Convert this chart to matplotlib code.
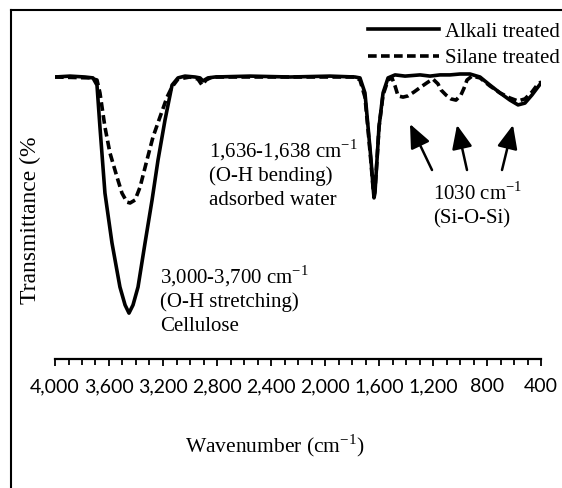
import matplotlib

matplotlib.use("Agg")
import matplotlib.pyplot as plt
from matplotlib.lines import Line2D
from matplotlib.ticker import FuncFormatter, MultipleLocator

# FTIR spectra (wavenumber in cm-1, transmittance in chart units)
ALKALI_WN = [4000, 3889, 3778, 3719, 3689, 3667, 3630, 3578, 3519, 3481, 3452, 3422, 3385,
             3333, 3281, 3237, 3185, 3133, 3089, 3037, 2963, 2926, 2904, 2867, 2815, 2556,
             2259, 1963, 1778, 1741, 1704, 1681, 1659, 1644, 1637, 1630, 1615, 1600, 1570,
             1533, 1481, 1407, 1296, 1222, 1148, 1074, 1000, 926, 852, 778, 704, 630, 570,
             519, 467, 422, 400]
ALKALI_T = [94.0, 94.3, 94.0, 93.7, 91.3, 77.3, 55.3, 38.7, 24.0, 18.0, 15.3, 18.0, 24.0,
            38.7, 53.0, 66.3, 79.7, 91.3, 93.7, 94.3, 94.0, 93.7, 92.7, 93.7, 94.0, 94.3,
            94.0, 94.3, 94.0, 93.7, 88.7, 77.3, 66.3, 57.3, 53.7, 55.3, 66.3, 77.3, 88.7,
            93.7, 94.7, 94.3, 94.7, 94.3, 94.7, 94.7, 95.0, 95.0, 94.0, 91.3, 88.7, 86.3, 84.7,
            85.3, 88.0, 90.7, 92.0]

SILANE_WN = [4000, 3741, 3689, 3667, 3630, 3593, 3541, 3504, 3467, 3444, 3407, 3370, 3319,
             3274, 3222, 3170, 3133, 3089, 3000, 2941, 2911, 2881, 2837, 2400, 1778, 1741,
             1704, 1681, 1659, 1644, 1637, 1630, 1615, 1600, 1570, 1533, 1504, 1481, 1459,
             1422, 1385, 1341, 1289, 1237, 1200, 1163, 1141, 1104, 1067, 1030, 993, 970, 948,
             911, 852, 778, 704, 630, 570, 519, 467, 422, 400]
SILANE_T = [94.0, 93.7, 93.0, 88.7, 77.3, 68.7, 60.7, 55.3, 52.3, 52.0, 53.0, 57.3, 66.3,
            74.0, 80.7, 87.3, 90.7, 93.3, 94.0, 93.3, 91.3, 93.0, 94.0, 94.0, 94.0, 93.0,
            87.3, 76.3, 65.3, 57.0, 54.7, 56.3, 66.3, 77.3, 88.0, 93.0, 93.7, 91.0, 87.7,
            87.3, 87.7, 89.0, 90.7, 92.3, 93.3, 91.7, 89.7, 88.0, 86.7, 86.3, 88.0, 90.3, 93.0,
            94.3, 93.7, 91.0, 88.7, 87.0, 86.0, 86.7, 89.0, 91.7, 92.3]

SERIES_LABELS = ["Alkali treated", "Silane treated"]

W, H = 562, 488
SERIF = "Liberation Serif"

plt.rcParams["font.family"] = SERIF
plt.rcParams["mathtext.fontset"] = "custom"
plt.rcParams["mathtext.rm"] = SERIF


def fy(y):
    # pixel row measured from the top -> figure pixels from the bottom
    return H - y


fig = plt.figure(figsize=(W / 100, H / 100), dpi=100)
ax = fig.add_axes([55 / W, (H - 359) / H, 486 / W, 300 / H])

ax.plot(ALKALI_WN, ALKALI_T, color="black", lw=2.6, solid_joinstyle="round",
        label=SERIES_LABELS[0])
ax.plot(SILANE_WN, SILANE_T, color="black", lw=2.6, linestyle=(0, (2.4, 1.2)),
        label=SERIES_LABELS[1])

ax.set_xlim(4000, 400)
ax.set_ylim(0, 100)
for side in ["top", "right", "left"]:
    ax.spines[side].set_visible(False)
ax.spines["bottom"].set_linewidth(1.6)
ax.set_yticks([])
ax.xaxis.set_major_locator(MultipleLocator(400))
ax.xaxis.set_minor_locator(MultipleLocator(100))
ax.xaxis.set_major_formatter(FuncFormatter(lambda v, _: f"{v:,.0f}"))
ax.tick_params(axis="x", which="both", direction="out", width=1.3, colors="black")
ax.tick_params(axis="x", which="major", length=5, pad=9, labelsize=14)
ax.tick_params(axis="x", which="minor", length=4.5)
for lbl in ax.get_xticklabels():
    lbl.set_fontfamily("Lato")

leg = ax.legend(loc="upper left", bbox_to_anchor=(368 / W, 1 - 22 / H),
                bbox_transform=fig.transFigure, frameon=False, fontsize=15,
                handlelength=3.4, handletextpad=0.3, labelspacing=0.35,
                borderpad=0, borderaxespad=0)

# annotations
SUP = r"cm$^{\mathregular{-1}}$"
notes = [
    (209, 157, "1,636-1,638 " + SUP), (209, 181, "(O-H bending)"), (209, 205, "adsorbed water"),
    (160, 283, "3,000-3,700 " + SUP), (160, 307, "(O-H stretching)"), (160, 331, "Cellulose"),
    (433, 200, "1030 " + SUP), (433, 223, "(Si-O-Si)"),
]
for x, y, s in notes:
    fig.text(x / W, fy(y) / H, s, fontsize=15, va="baseline", ha="left")

arrows = [((432, 170), (410, 124)), ((467, 170), (457, 125)), ((502, 170), (513, 125))]
for (tx, ty), (hx, hy) in arrows:
    ax.annotate("", xy=(hx, fy(hy)), xytext=(tx, fy(ty)), xycoords="figure pixels",
                textcoords="figure pixels",
                arrowprops=dict(arrowstyle="-|>,head_length=0.6,head_width=0.26",
                                mutation_scale=24, lw=1.8, color="black",
                                shrinkA=0, shrinkB=0))

fig.text(185 / W, fy(452) / H, "Wavenumber (" + SUP + ")", fontsize=15.5,
         va="baseline", ha="left")
fig.text(30 / W, fy(137) / H, "Transmittance (%", fontsize=17, rotation=90,
         ha="center", va="top")

# outer frame (only top and left edges show in the crop)
fig.add_artist(Line2D([11 / W, 1], [1 - 10 / H, 1 - 10 / H], color="black", lw=1.5,
                      transform=fig.transFigure))
fig.add_artist(Line2D([11 / W, 11 / W], [0, 1 - 10 / H], color="black", lw=1.5,
                      transform=fig.transFigure))

fig.savefig("out.png", dpi=100)
